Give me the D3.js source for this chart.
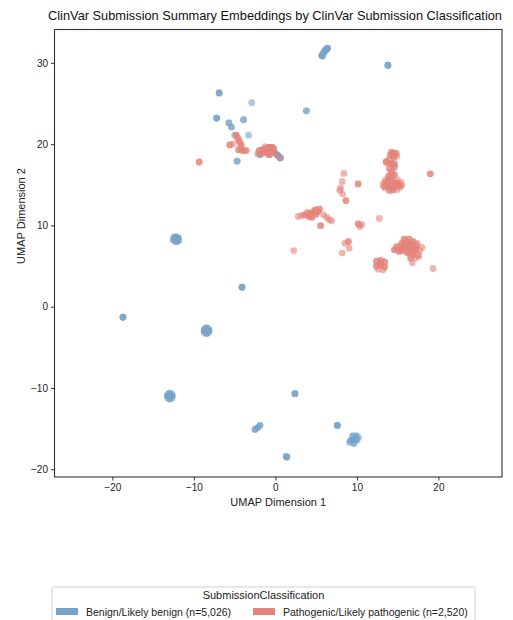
<!DOCTYPE html>
<html>
<head>
<meta charset="utf-8">
<script src="https://cdn.jsdelivr.net/npm/d3@7"></script>
<style>
  body { margin: 0; background: #fff; }
  svg { font-family: "Liberation Sans", Arial, sans-serif; }
  .axis text { font-size: 10px; fill: #222; }
  .axis line { stroke: #333; }
  .axis path { display: none; }
</style>
</head>
<body>
<div id="chart"></div>
<script>
// [x, y, n] : n = stacked submissions at the same spot
const benign = [
  [5.7, 30.9, 3], [5.9, 31.2, 3], [6.1, 31.5, 3], [6.3, 31.7, 3], [6.4, 31.8, 2], [5.8, 30.8, 1],
  [13.8, 29.7, 3], [3.8, 24.1, 2], [-6.9, 26.3, 3], [-2.9, 25.1, 1],
  [-7.2, 23.2, 3], [-5.7, 22.6, 2], [-5.4, 22.1, 2], [-3.9, 23.0, 2],
  [-5.0, 21.1, 1], [-3.3, 21.1, 1], [-4.7, 17.9, 2],
  [-1.9, 18.7, 2], [-0.7, 18.7, 1], [0.1, 18.8, 2], [0.3, 18.6, 2], [0.6, 18.3, 3],
  [-12.2, 8.3, 4], [-12.5, 8.2, 2], [-11.9, 8.4, 2], [-12.2, 8.0, 2], [-12.3, 8.6, 2], [-11.9, 8.1, 2],
  [-12.5, 8.5, 1], [-12.0, 8.6, 1],
  [-18.7, -1.3, 3], [-4.1, 2.4, 3],
  [-8.45, -2.95, 4], [-8.75, -2.95, 2], [-8.15, -2.95, 2], [-8.45, -2.6, 2], [-8.45, -3.3, 2],
  [-8.7, -2.7, 1], [-8.2, -2.7, 1], [-8.7, -3.2, 1], [-8.2, -3.2, 1],
  [-12.95, -11.0, 4], [-13.25, -11.0, 2], [-12.65, -11.0, 2], [-12.95, -10.65, 2], [-12.95, -11.35, 2],
  [-13.2, -10.75, 1], [-12.7, -10.75, 1], [-13.2, -11.25, 1], [-12.7, -11.25, 1],
  [2.4, -10.7, 3],
  [-2.5, -15.1, 2], [-2.2, -14.9, 2], [-1.9, -14.6, 2],
  [1.4, -18.5, 3], [1.3, -18.4, 1], [7.6, -14.6, 3],
  [9.6, -16.3, 3], [9.2, -16.5, 2], [10.0, -16.4, 2], [9.5, -15.9, 2], [9.9, -15.9, 2], [9.6, -16.8, 2],
  [9.1, -16.7, 1], [10.2, -16.1, 1]
];

const pathogenic = [
  [-9.35, 17.8, 2],
  [-4.8, 21.1, 2], [-4.6, 20.7, 2], [-4.4, 20.3, 2], [-4.2, 19.9, 2], [-5.6, 19.9, 2], [-5.2, 20.0, 1],
  [-4.5, 19.3, 2], [-4.0, 19.2, 2], [-3.6, 19.2, 2], [-4.2, 19.5, 1],
  [-2.0, 19.2, 2], [-1.6, 19.3, 2], [-1.2, 19.4, 3], [-0.8, 19.6, 3], [-0.4, 19.6, 3], [-0.2, 19.4, 2],
  [-1.0, 19.0, 3], [-0.5, 19.1, 2], [-1.5, 18.9, 2], [-0.8, 18.7, 2], [-2.2, 18.8, 1], [0.5, 18.4, 1],
  [-0.2, 19.0, 2], [-1.3, 19.7, 1],
  [14.4, 18.9, 3], [14.8, 18.9, 2], [14.1, 18.6, 2], [14.5, 18.4, 2], [14.2, 19.0, 1], [14.9, 18.5, 1],
  [13.6, 17.8, 3], [14.2, 17.6, 3], [14.6, 17.6, 2], [13.9, 18.1, 1], [14.6, 17.2, 2], [14.0, 17.0, 2],
  [14.3, 16.6, 2], [14.6, 16.2, 2], [14.2, 16.0, 2], [13.8, 15.5, 3], [13.9, 16.1, 2],
  [14.3, 15.4, 3], [14.8, 15.2, 3], [13.8, 14.8, 2], [14.3, 14.7, 3], [14.8, 14.8, 2], [14.4, 14.4, 2],
  [15.2, 15.0, 2], [13.6, 15.2, 2], [13.4, 14.7, 2], [15.0, 15.6, 1], [14.9, 14.4, 1], [14.0, 14.3, 2],
  [15.3, 14.7, 1], [13.5, 15.6, 1], [13.3, 15.2, 1], [15.4, 15.3, 1], [13.2, 14.9, 1], [15.5, 14.9, 1],
  [19.0, 16.35, 2], [10.15, 15.1, 2],
  [8.4, 16.4, 1], [8.2, 15.4, 1], [8.0, 14.6, 1], [7.9, 14.3, 1], [8.25, 13.85, 1], [8.65, 13.05, 2],
  [2.8, 11.1, 1], [3.2, 11.2, 1], [3.6, 11.3, 2], [4.1, 11.1, 2], [4.2, 11.5, 2], [4.7, 11.7, 2],
  [4.9, 11.9, 2], [5.4, 12.0, 2], [5.0, 11.4, 2], [4.5, 11.0, 2], [5.9, 11.3, 1], [6.3, 11.0, 1],
  [6.6, 10.7, 1], [6.9, 10.55, 1], [5.55, 9.97, 2], [3.9, 11.6, 1], [5.2, 11.7, 2], [4.4, 11.3, 2],
  [10.15, 10.2, 2], [10.35, 9.85, 1], [10.6, 10.1, 1], [12.75, 10.85, 1],
  [8.95, 8.0, 2], [8.5, 7.8, 1], [9.05, 7.2, 1], [8.2, 6.6, 1], [2.25, 6.9, 1],
  [15.8, 8.3, 2], [16.4, 8.3, 2], [16.9, 8.0, 2], [15.5, 7.8, 2], [16.1, 7.8, 3], [16.7, 7.6, 3],
  [17.3, 7.5, 2], [14.9, 7.4, 2], [15.4, 7.2, 3], [16.0, 7.2, 3], [16.6, 7.0, 3], [17.2, 7.0, 2],
  [17.7, 6.9, 1], [14.6, 7.0, 2], [15.2, 6.8, 2], [16.3, 6.6, 2], [16.9, 6.4, 2], [17.5, 6.4, 1],
  [16.6, 6.0, 2], [17.2, 6.0, 1], [17.6, 6.2, 1], [16.8, 5.4, 1], [19.35, 4.7, 1], [18.0, 7.3, 1],
  [15.7, 6.9, 2], [16.0, 8.0, 2], [16.4, 7.4, 3], [15.0, 7.0, 1], [17.0, 6.9, 2], [15.8, 7.6, 2],
  [16.8, 6.8, 2], [17.4, 7.8, 1], [16.1, 6.7, 1],
  [12.4, 5.6, 2], [12.9, 5.7, 2], [13.4, 5.5, 2], [12.4, 5.0, 2], [12.9, 5.1, 2], [13.4, 4.9, 2],
  [12.6, 4.6, 1], [13.2, 4.5, 1], [12.9, 5.4, 2]
];

const classes = ["Benign/Likely benign (n=5,026)", "Pathogenic/Likely pathogenic (n=2,520)"];
const colors = ["#78a3c8", "#e5837a"];
const xTicks = [-20, -10, 0, 10, 20];
const yTicks = [-20, -10, 0, 10, 20, 30];

const width = 513, height = 620;
const plot = { left: 54.5, right: 502, top: 29.5, bottom: 477 };

const svg = d3.select("#chart").append("svg")
    .attr("width", width)
    .attr("height", height);

const x = d3.scaleLinear().domain([-27.1, 27.8]).range([plot.left, plot.right]);
const y = d3.scaleLinear().domain([-20.95, 34.1]).range([plot.bottom, plot.top]);

// expand stacked entries into individual marks
function expand(arr, cls) {
    const out = [];
    arr.forEach(d => { for (let i = 0; i < d[2]; i++) out.push({ x: d[0], y: d[1], cls }); });
    return out;
}
const points = expand(benign, 0).concat(expand(pathogenic, 1));

svg.append("g")
    .selectAll("circle")
    .data(points)
    .enter().append("circle")
    .attr("cx", d => x(d.x))
    .attr("cy", d => y(d.y))
    .attr("r", 3.4)
    .attr("fill", d => colors[d.cls])
    .attr("fill-opacity", 0.6);

// frame
svg.append("rect")
    .attr("x", plot.left)
    .attr("y", plot.top)
    .attr("width", plot.right - plot.left)
    .attr("height", plot.bottom - plot.top)
    .attr("fill", "none")
    .attr("stroke", "#333")
    .attr("stroke-width", 1.1);

svg.append("g")
    .attr("class", "axis")
    .attr("transform", `translate(0,${plot.bottom})`)
    .call(d3.axisBottom(x).tickValues(xTicks).tickSize(3.5).tickPadding(3));

svg.append("g")
    .attr("class", "axis")
    .attr("transform", `translate(${plot.left},0)`)
    .call(d3.axisLeft(y).tickValues(yTicks).tickSize(3.5).tickPadding(3));

svg.append("text")
    .attr("x", 275)
    .attr("y", 20)
    .attr("text-anchor", "middle")
    .style("font-size", "12.8px")
    .attr("fill", "#111")
    .text("ClinVar Submission Summary Embeddings by ClinVar Submission Classification");

svg.append("text")
    .attr("x", (plot.left + plot.right) / 2)
    .attr("y", 506)
    .attr("text-anchor", "middle")
    .style("font-size", "11px")
    .attr("fill", "#222")
    .text("UMAP Dimension 1");

svg.append("text")
    .attr("transform", "translate(25,216) rotate(-90)")
    .attr("text-anchor", "middle")
    .style("font-size", "11px")
    .attr("fill", "#222")
    .text("UMAP Dimension 2");

// legend
const legend = svg.append("g");
legend.append("rect")
    .attr("x", 52).attr("y", 587)
    .attr("width", 423).attr("height", 45)
    .attr("rx", 2)
    .attr("fill", "#fff")
    .attr("stroke", "#d0d0d0");
legend.append("text")
    .attr("x", 263.5).attr("y", 599)
    .attr("text-anchor", "middle")
    .style("font-size", "11px")
    .attr("fill", "#222")
    .text("SubmissionClassification");
const itemX = [56, 253];
classes.forEach((c, i) => {
    legend.append("rect")
        .attr("x", itemX[i]).attr("y", 608)
        .attr("width", 22).attr("height", 7)
        .attr("fill", colors[i]);
    legend.append("text")
        .attr("x", itemX[i] + 30).attr("y", 615.5)
        .style("font-size", "10.5px")
        .attr("fill", "#222")
        .text(c);
});
</script>
</body>
</html>
